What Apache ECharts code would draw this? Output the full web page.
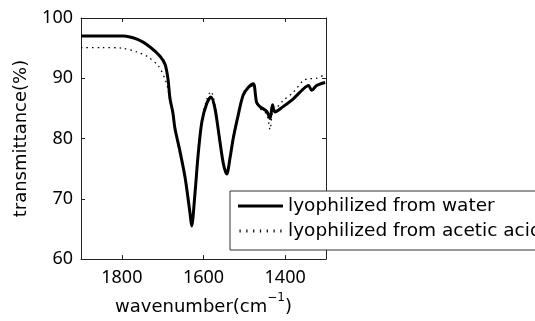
<!DOCTYPE html>
<html>
<head>
<meta charset="utf-8">
<script src="https://cdn.jsdelivr.net/npm/echarts@6/dist/echarts.min.js"></script>
<style>html,body{margin:0;padding:0;background:#fff}#c{width:535px;height:321px}</style>
</head>
<body>
<div id="c"></div>
<script>
// wavenumber (cm^-1)
var waterX = [1900,1853,1797,1760,1731,1707,1694,1687,1682,1675,1670,1658,1645,1633,1629,1621,1613,1604,1592,1582,1572,1560,1551,1543,1535,1527,1515,1503,1490,1478,1470,1462,1445,1437,1431,1425,1405,1380,1356,1343,1335,1323,1302];
var waterY = [97.0,97.0,97.0,96.4,95.2,93.7,92.3,89.9,86.6,84.3,81.7,78.0,73.5,67.6,65.5,70.8,77.4,82.8,85.8,86.9,85.0,79.6,75.7,74.1,76.8,80.1,83.9,87.2,88.5,89.1,86.0,85.3,84.5,83.3,85.6,84.4,85.3,86.6,88.2,88.8,88.0,88.8,89.3];
var aceticX = [1900,1850,1800,1760,1735,1710,1695,1688,1682,1675,1670,1658,1645,1633,1629,1621,1613,1604,1592,1582,1572,1560,1551,1543,1535,1527,1515,1503,1490,1478,1470,1462,1445,1437,1431,1425,1405,1380,1356,1343,1323,1302];
var aceticY = [95.1,95.1,95.0,94.3,93.5,92.0,90.0,88.5,86.2,84.0,81.5,77.5,73.0,67.5,66.0,71.0,77.8,83.2,86.5,87.8,85.5,80.0,76.0,74.5,77.0,80.5,84.2,87.3,88.3,88.8,86.0,85.0,84.0,81.5,84.5,84.8,86.3,87.7,89.6,89.9,90.0,90.7];
var seriesNames = ['lyophilized from water', 'lyophilized from acetic acid'];
var xTicks = [1800, 1600, 1400];
var yTicks = [60, 70, 80, 90, 100];

function pairs(xs, ys){ return xs.map(function(x,i){ return [x, ys[i]]; }); }

var numFont = '"Noto Sans", sans-serif';
var txtFont = '"DejaVu Sans", sans-serif';
var axisColor = '#222';

// legend icon paths (45 x 3 boxes)
var solidIcon = 'path://M0,0h45v3h-45z';
var dotIcon = 'path://';
for (var k = 0; k < 7; k++) { dotIcon += 'M' + (1 + k * 6.8) + ',0h1.2v3h-1.2z'; }

var chart = echarts.init(document.getElementById('c'), null, {renderer:'canvas'});
chart.setOption({
  backgroundColor: '#fff',
  animation: false,
  grid: {left: 81, right: 209, top: 18, bottom: 58, containLabel: false},
  xAxis: [{
    type: 'value', min: 1300, max: 1900, inverse: true, interval: 100,
    name: '{a|wavenumber(cm}{s|\u22121}{a|)}',
    nameLocation: 'middle', nameGap: 27,
    nameTextStyle: {rich: {a: {fontSize: 18, fontFamily: txtFont, color: '#000', verticalAlign: 'bottom', lineHeight: 24},
                            s: {fontSize: 12, fontFamily: txtFont, color: '#000', verticalAlign: 'top', lineHeight: 24, padding:[0,0,10,0]}}},
    axisLine: {show: true, lineStyle: {color: axisColor, width: 1}},
    axisTick: {show: true, inside: true, length: 4, lineStyle: {color: axisColor}, customValues: xTicks},
    axisLabel: {show: true, fontSize: 18, fontFamily: numFont, color: '#000', margin: 10,
      customValues: xTicks, formatter: function(v){ return String(v); }},
    splitLine: {show: false}
  }, {
    type: 'value', min: 1300, max: 1900, inverse: true, position: 'top',
    axisLine: {show: true, lineStyle: {color: axisColor, width: 1}},
    axisTick: {show: true, inside: true, length: 4, lineStyle: {color: axisColor}, customValues: xTicks},
    axisLabel: {show: false},
    splitLine: {show: false}
  }],
  yAxis: [{
    type: 'value', min: 60, max: 100, interval: 10,
    name: 'transmittance(%)', nameLocation: 'middle', nameGap: 51,
    nameTextStyle: {fontSize: 18, fontFamily: txtFont, color: '#000'},
    axisLine: {show: true, lineStyle: {color: axisColor, width: 1}},
    axisTick: {show: true, inside: true, length: 4, lineStyle: {color: axisColor}, customValues: yTicks},
    axisLabel: {fontSize: 18, fontFamily: numFont, color: '#000', margin: 8, customValues: yTicks},
    splitLine: {show: false}
  }, {
    type: 'value', min: 60, max: 100, interval: 10, position: 'right',
    axisLine: {show: true, lineStyle: {color: axisColor, width: 1}},
    axisTick: {show: true, inside: true, length: 4, lineStyle: {color: axisColor}, customValues: yTicks},
    axisLabel: {show: false},
    splitLine: {show: false}
  }],
  legend: {
    show: true, orient: 'vertical', left: 230, top: 191,
    padding: [5, 30, 9, 8], itemGap: 5, itemWidth: 45, itemHeight: 3,
    backgroundColor: '#fff', borderColor: '#333', borderWidth: 1,
    textStyle: {fontSize: 18.5, fontFamily: txtFont, color: '#000', lineHeight: 20, height: 20},
    data: [
      {name: seriesNames[0], icon: solidIcon, itemStyle: {color: '#000'}},
      {name: seriesNames[1], icon: dotIcon, itemStyle: {color: '#000'}}
    ]
  },
  series: [{
    name: seriesNames[0], type: 'line', smooth: 0.3, showSymbol: false, symbol: 'none',
    data: pairs(waterX, waterY), lineStyle: {color: '#000', width: 3}, itemStyle: {color: '#000'}, z: 3
  }, {
    name: seriesNames[1], type: 'line', smooth: 0.3, showSymbol: false, symbol: 'none',
    data: pairs(aceticX, aceticY), lineStyle: {color: '#000', width: 1.3, type: [1.5, 4]}, itemStyle: {color: '#000'}, z: 2
  }]
});
</script>
</body>
</html>
